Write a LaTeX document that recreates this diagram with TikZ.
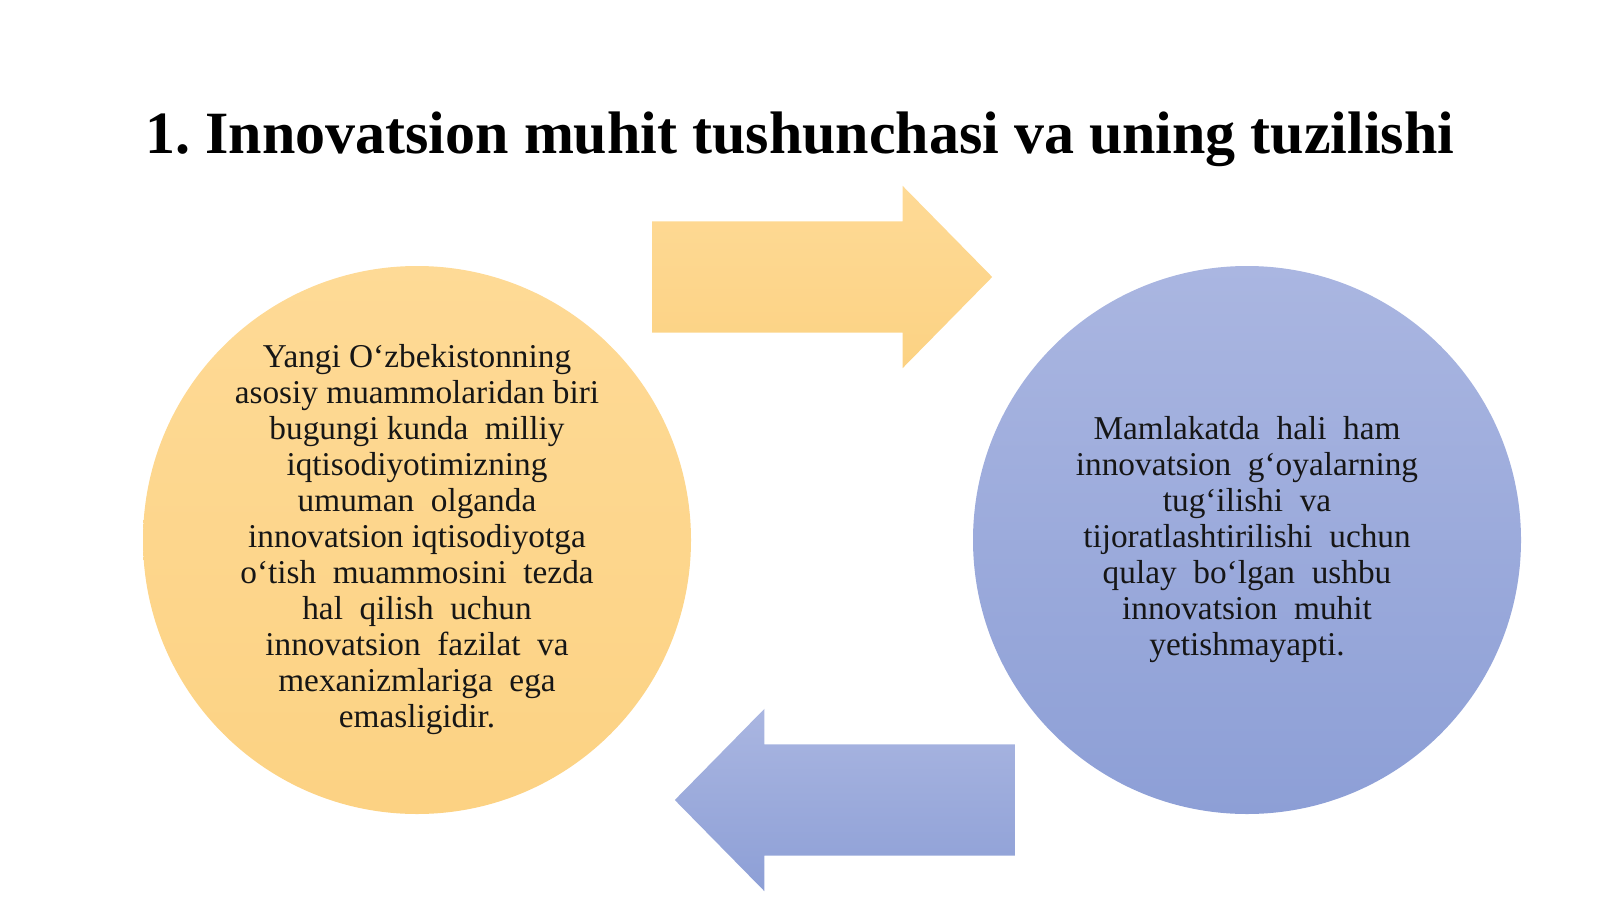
\documentclass[tikz,border=0pt]{standalone}
\usepackage{fontspec}
\setmainfont{Liberation Serif}
\usepackage{tikz}
\usetikzlibrary{shapes,arrows}
\frenchspacing

\definecolor{peachtop}{HTML}{FEDA96}
\definecolor{peachbot}{HTML}{FCD283}
\definecolor{bluetop}{HTML}{AAB6E1}
\definecolor{bluebot}{HTML}{8D9FD6}
\definecolor{inkgray}{HTML}{161616}

\begin{document}
\begin{tikzpicture}[x=1pt,y=-1pt]
    \tikzstyle{bubble} = [shape=circle, minimum size=548pt, inner sep=0pt, align=center, text=inkgray, font=\fontsize{33.3}{36}\selectfont];
    \tikzstyle{warm} = [top color=peachtop, bottom color=peachbot];
    \tikzstyle{cool} = [top color=bluetop, bottom color=bluebot];
    \tikzstyle{flow} = [single arrow, minimum height=340pt, inner xsep=0pt, inner ysep=55.5pt, single arrow head extend=35.5pt, single arrow tip angle=91];

    \useasboundingbox (0,0) rectangle (1600,899);

    % Nodes
    \node [anchor=base, font=\bfseries\fontsize{60}{70}\selectfont] (title) at (800,153) {1. Innovatsion muhit tushunchasi va uning tuzilishi};
    \node [bubble, warm] (problem) at (417,540) {Yangi O‘zbekistonning\\asosiy muammolaridan biri\\bugungi kunda\ \ milliy\\iqtisodiyotimizning\\umuman\ \ olganda\\innovatsion iqtisodiyotga\\o‘tish\ \ muammosini\ \ tezda\\hal\ \ qilish\ \ uchun\\innovatsion\ \ fazilat\ \ va\\mexanizmlariga\ \ ega\\emasligidir.};
    \node [bubble, cool] (lack) at (1247,540) {Mamlakatda\ \ hali\ \ ham\\innovatsion\ \ g‘oyalarning\\tug‘ilishi\ \ va\\tijoratlashtirilishi\ \ uchun\\qulay\ \ bo‘lgan\ \ ushbu\\innovatsion\ \ muhit\\yetishmayapti.};

    % Block arrows
    \node [flow, warm, anchor=tail] (forward) at (652,277) {};
    \node [flow, cool, shape border rotate=180, anchor=tail] (back) at (1015,800) {};
\end{tikzpicture}
\end{document}
